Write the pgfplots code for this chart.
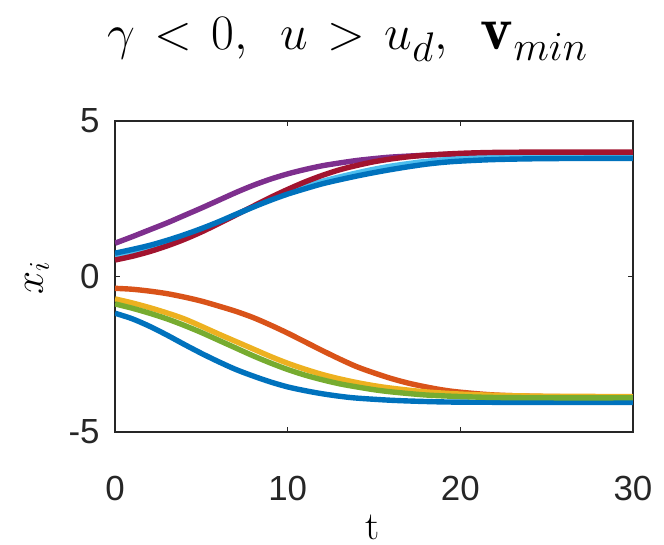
\documentclass[border=0pt]{standalone}
\usepackage{pgfplots}
\pgfplotsset{compat=1.18}
\usepackage{fontspec}
\newfontfamily\tickfont{Liberation Sans}

% MATLAB default line colours
\definecolor{mblue}{RGB}{0,114,189}
\definecolor{morange}{RGB}{217,83,25}
\definecolor{myellow}{RGB}{237,177,32}
\definecolor{mpurple}{RGB}{126,47,142}
\definecolor{mgreen}{RGB}{119,172,48}
\definecolor{mcyan}{RGB}{77,190,238}
\definecolor{mred}{RGB}{162,20,47}
\definecolor{axgray}{RGB}{38,38,38}

\begin{document}
\begin{tikzpicture}
% fixed page frame around the axis
\path[use as bounding box] (-57.5bp,-56.5bp) rectangle (274.5bp,216bp);
\begin{axis}[
  scale only axis,
  width=259bp, height=155.5bp,
  at={(0,0)}, anchor=south west,
  xmin=0, xmax=30, ymin=-5, ymax=5,
  xtick={0,10,20,30}, xticklabels={0,10,20,30},
  ytick={-5,0,5}, yticklabels={-5,0,5},
  tick align=inside,
  major tick length=2.5bp,
  axis line style={axgray, line width=0.7bp},
  every tick/.style={axgray, line width=0.6bp},
  tick label style={font=\tickfont\fontsize{17.5}{17.5}\selectfont, text=axgray},
  xticklabel style={inner sep=0pt, anchor=north, yshift=-22bp},
  yticklabel style={inner sep=0pt, anchor=east, xshift=-7.5bp},
  every axis plot/.append style={line width=2.7bp, smooth},
  clip=true,
]
% lower cluster
\addplot[mblue] coordinates {(0,-1.18) (1,-1.36) (2,-1.6) (3,-1.88) (4,-2.18) (5,-2.47) (6,-2.74) (7,-2.99) (8,-3.2) (9,-3.39) (10,-3.55) (11,-3.67) (12,-3.77) (13,-3.85) (14,-3.91) (16,-3.98) (18,-4.02) (20,-4.04) (25,-4.05) (30,-4.05)};
\addplot[morange] coordinates {(0,-0.38) (1,-0.41) (2,-0.47) (3,-0.55) (4,-0.66) (5,-0.79) (6,-0.95) (7,-1.12) (8,-1.32) (9,-1.56) (10,-1.82) (11,-2.1) (12,-2.38) (13,-2.65) (14,-2.9) (15,-3.1) (16,-3.28) (17,-3.43) (18,-3.55) (19,-3.65) (20,-3.72) (22,-3.81) (25,-3.86) (30,-3.88)};
\addplot[myellow] coordinates {(0,-0.72) (1,-0.85) (2,-1.0) (3,-1.17) (4,-1.36) (5,-1.6) (6,-1.85) (7,-2.09) (8,-2.33) (9,-2.57) (10,-2.79) (11,-2.98) (12,-3.15) (13,-3.29) (14,-3.41) (15,-3.51) (16,-3.59) (18,-3.71) (20,-3.78) (22,-3.82) (25,-3.85) (30,-3.86)};
% upper cluster and the last lower trajectory
\addplot[mpurple] coordinates {(0,1.07) (1,1.28) (2,1.5) (3,1.72) (4,1.96) (5,2.2) (6,2.45) (7,2.7) (8,2.93) (9,3.13) (10,3.3) (11,3.44) (12,3.56) (13,3.65) (14,3.73) (15,3.79) (16,3.84) (18,3.9) (20,3.94) (22,3.96) (25,3.97) (30,3.97)};
\addplot[mgreen] coordinates {(0,-0.88) (1,-1.02) (2,-1.18) (3,-1.36) (4,-1.57) (5,-1.8) (6,-2.05) (7,-2.3) (8,-2.55) (9,-2.78) (10,-2.99) (11,-3.17) (12,-3.32) (13,-3.45) (14,-3.55) (15,-3.64) (16,-3.71) (18,-3.81) (20,-3.86) (22,-3.89) (25,-3.9) (30,-3.9)};
\addplot[mcyan] coordinates {(0,0.68) (1,0.8) (2,0.95) (3,1.12) (4,1.31) (5,1.51) (6,1.73) (7,1.98) (8,2.24) (9,2.48) (10,2.7) (11,2.89) (12,3.06) (13,3.2) (14,3.33) (15,3.45) (16,3.55) (17,3.63) (18,3.7) (20,3.79) (22,3.83) (25,3.85) (30,3.86)};
\addplot[mred] coordinates {(0,0.53) (1,0.65) (2,0.8) (3,0.98) (4,1.19) (5,1.43) (6,1.7) (7,1.98) (8,2.26) (9,2.54) (10,2.8) (11,3.04) (12,3.25) (13,3.43) (14,3.57) (15,3.69) (16,3.78) (17,3.85) (18,3.9) (20,3.96) (22,3.99) (25,4.0) (30,4.0)};
\addplot[mblue] coordinates {(0,0.75) (1,0.87) (2,1.0) (3,1.16) (4,1.34) (5,1.54) (6,1.76) (7,2.0) (8,2.23) (9,2.45) (10,2.65) (11,2.82) (12,2.98) (13,3.11) (14,3.23) (15,3.34) (16,3.44) (17,3.53) (18,3.61) (19,3.67) (20,3.71) (22,3.76) (25,3.79) (30,3.8)};
\end{axis}
% title and axis labels
\node[anchor=base west, inner sep=0pt, font=\fontsize{31}{35}\selectfont] at (-4bp,191bp)
  {$\thickmuskip=7mu \gamma < 0,\mskip9mu u > u_d,\mskip9mu \mathbf{v}_{min}$};
\node[anchor=base, inner sep=0pt, font=\fontsize{20}{24}\selectfont] at (129bp,-53.5bp) {t};
\node[rotate=90, inner sep=0pt, font=\fontsize{22}{26}\selectfont] at (-39bp,77bp) {$x_i$};
\end{tikzpicture}
\end{document}
